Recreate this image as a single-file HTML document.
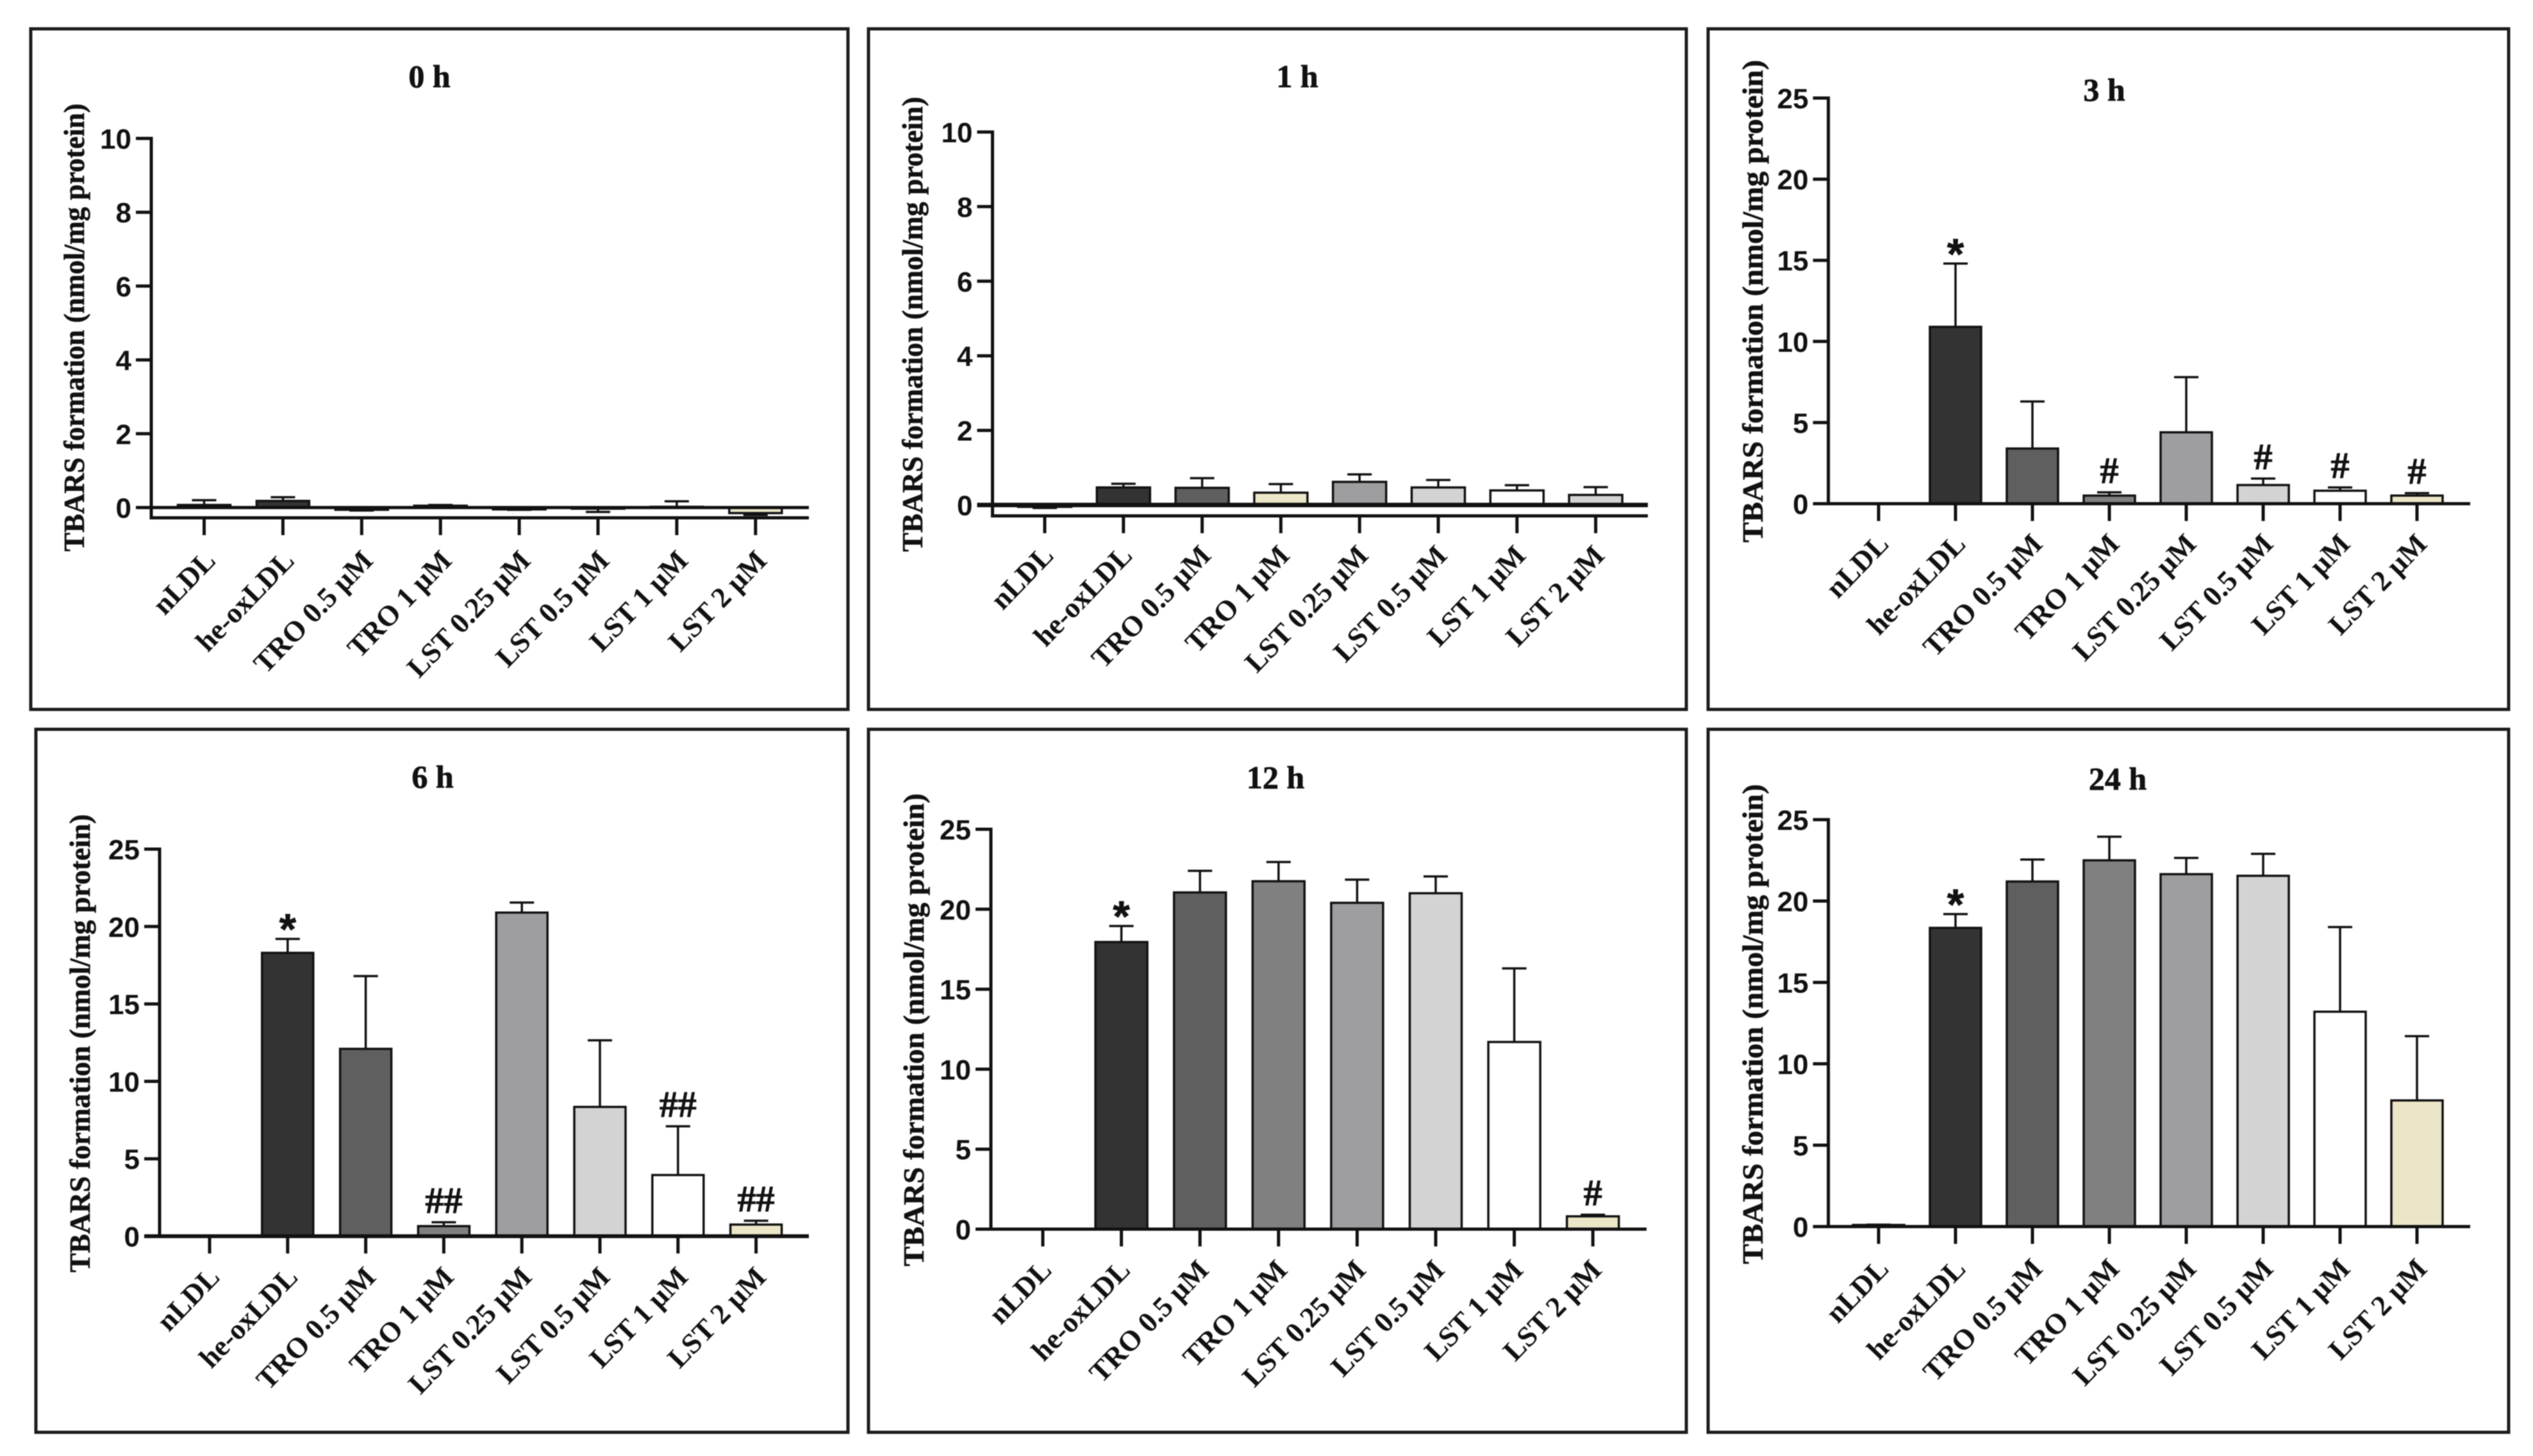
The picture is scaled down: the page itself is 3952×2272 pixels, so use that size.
<!DOCTYPE html>
<html lang="en">
<head>
<meta charset="utf-8">
<title>TBARS formation time course</title>
<style>
html,body{margin:0;padding:0;background:#fff}
svg{display:block;filter:blur(0.8px)}
.ylab{font:bold 44px "Liberation Sans",sans-serif;fill:#111;text-anchor:end}
.cat{font:bold 45px "Liberation Serif",serif;fill:#111;text-anchor:end}
.ytitle{font:bold 45px "Liberation Serif",serif;fill:#111;text-anchor:middle;stroke:#111;stroke-width:.6px}
.title{font:bold 50px "Liberation Serif",serif;fill:#111;text-anchor:middle;stroke:#111;stroke-width:.8px}
.mark{font:bold 58px "Liberation Serif",serif;fill:#111;text-anchor:middle;stroke:#111;stroke-width:.8px}
</style>
</head>
<body>
<svg id="figure" xmlns="http://www.w3.org/2000/svg" width="3952" height="2272" viewBox="0 0 3952 2272">
<rect width="3952" height="2272" fill="#fff"/>
</svg>
<script>
// ---- data ----
var categories = ['nLDL','he-oxLDL','TRO 0.5 µM','TRO 1 µM','LST 0.25 µM','LST 0.5 µM','LST 1 µM','LST 2 µM'];
var yTicks10 = [0,2,4,6,8,10];
var yTicks25 = [0,5,10,15,20,25];
var yAxisLabel = 'TBARS formation (nmol/mg protein)';

var means0h  = [0.07,0.18,-0.06,0.05,-0.05,-0.03,0.02,-0.15];
var errors0h = [0.13,0.10,0.02,0.02,0.01,0.09,0.15,0.05];
var marks0h  = ['','','','','','','',''];

var means1h  = [-0.05,0.47,0.46,0.33,0.62,0.47,0.39,0.27];
var errors1h = [0.03,0.10,0.26,0.23,0.20,0.20,0.14,0.21];
var marks1h  = ['','','','','','','',''];

var means3h  = [0,10.9,3.4,0.5,4.4,1.15,0.8,0.5];
var errors3h = [0,3.9,2.9,0.2,3.4,0.4,0.2,0.15];
var marks3h  = ['','*','','#','','#','#','#'];

var means6h  = [0,18.3,12.1,0.65,20.9,8.35,3.95,0.75];
var errors6h = [0,0.9,4.7,0.25,0.65,4.3,3.15,0.25];
var marks6h  = ['','*','','##','','','##','##'];

var means12h  = [0,17.95,21.05,21.75,20.4,21,11.7,0.8];
var errors12h = [0,1,1.35,1.2,1.45,1.05,4.6,0.1];
var marks12h  = ['','*','','','','','','#'];

var means24h  = [0.1,18.35,21.2,22.5,21.65,21.55,13.2,7.75];
var errors24h = [0.02,0.85,1.35,1.45,1.0,1.35,5.2,3.95];
var marks24h  = ['','*','','','','','',''];

var fills = ['#333333','#333333','#5f5f5f','#808080','#9e9ea1','#d3d3d3','#ffffff','#ece6c8'];
var fills1h = ['#333333','#333333','#5f5f5f','#ece6c8','#9e9ea1','#d3d3d3','#ffffff','#d3d3d3'];

// ---- drawing ----
var NS = 'http://www.w3.org/2000/svg';
var root = document.getElementById('figure');

function mk(parent, tag, attrs, text) {
  var e = document.createElementNS(NS, tag);
  for (var k in attrs) e.setAttribute(k, attrs[k]);
  if (text !== undefined) e.textContent = text;
  parent.appendChild(e);
  return e;
}

function drawPanel(p) {
  var g = mk(root, 'g', {});
  
  

  function xScale(i) { return p.xFirst + i * p.xStep; }
  function yScale(v) { return p.y0 + (p.yTop - p.y0) * v / p.yMax; }

  var frame = mk(g, 'rect', {x:p.fx, y:p.fy, width:p.fw, height:p.fh, fill:'#fff', stroke:'#1c1c1c', 'stroke-width':5});
  
  

  var title = mk(g, 'text', {x:p.tx, y:p.ty, 'class':'title'}, p.title);
  
  

  var yt = mk(g, 'text', {'class':'ytitle', textLength:p.ytLen, lengthAdjust:'spacingAndGlyphs',
    transform:'translate(' + p.ytx + ',' + p.yty + ') rotate(-90)'}, yAxisLabel);
  
  

  // bars and error bars
  p.means.forEach(function (m, i) {
    var cx = xScale(i);
    var sign = m < 0 ? -1 : 1;
    var tipV = m + sign * p.errors[i];
    var yTip = yScale(tipV);
    var yM = yScale(m);

    var stem = mk(g, 'line', {x1:cx, x2:cx, y1:yM, y2:yTip, stroke:'#111', 'stroke-width':3.5});
    
    

    var cap = mk(g, 'line', {x1:cx - 19, x2:cx + 19, y1:yTip, y2:yTip, stroke:'#111', 'stroke-width':3.5});
    
    

    var top = Math.min(yM, p.y0), h = Math.abs(yM - p.y0);
    var bar = mk(g, 'rect', {x:cx - p.barW / 2, y:top, width:p.barW, height:h,
      fill:p.fills[i], stroke:'#111', 'stroke-width':3.5});
    
    

    if (p.marks[i]) {
      var isStar = p.marks[i] === '*';
      var mark = mk(g, 'text', {x:cx, y:isStar ? yTip + 8 : yTip - 15, 'class':'mark',
        style:isStar ? 'font-family:"Liberation Sans",sans-serif;font-size:68px' : ''}, p.marks[i]);
      
      
    }
  });

  // y axis
  var axisBottom = p.yLow;
  var ya = mk(g, 'line', {x1:p.ax, x2:p.ax, y1:p.yTop - 2.5, y2:axisBottom + 2.5, stroke:'#111', 'stroke-width':5});
  
  

  p.yTicks.forEach(function (v) {
    var y = yScale(v);
    var right = v === 0 ? p.xEnd : p.ax;
    var t = mk(g, 'line', {x1:p.ax - 24, x2:right, y1:y, y2:y, stroke:'#111',
      'stroke-width':v === 0 ? p.zeroW : 5});
    
    

    var l = mk(g, 'text', {x:p.ax - 31, y:y + 16, 'class':'ylab'}, String(v));
    
    
  });

  // x axis
  if (p.yLow !== p.y0) {
    var xa = mk(g, 'line', {x1:p.ax - 2.5, x2:p.xEnd, y1:p.yLow, y2:p.yLow, stroke:'#111', 'stroke-width':5});
    
    
  }

  categories.forEach(function (c, i) {
    var cx = xScale(i);
    var t = mk(g, 'line', {x1:cx, x2:cx, y1:p.yLow, y2:p.yLow + 27, stroke:'#111', 'stroke-width':5});
    
    

    var l = mk(g, 'text', {'class':'cat',
      transform:'translate(' + (cx + p.labDx) + ',' + p.labY + ') rotate(-46)'}, c);
    
    
  });
}

drawPanel({title:'0 h', means:means0h, errors:errors0h, marks:marks0h, fills:fills, yTicks:yTicks10, yMax:10,
  fx:48, fy:45, fw:1275, fh:1062, tx:670, ty:136, ytx:131, yty:511, ytLen:699,
  ax:236, xFirst:318.5, xStep:122.9, xEnd:1262, y0:792, yTop:216, yLow:808, zeroW:5, barW:82, labDx:20, labY:877});

drawPanel({title:'1 h', means:means1h, errors:errors1h, marks:marks1h, fills:fills1h, yTicks:yTicks10, yMax:10,
  fx:1355, fy:45, fw:1276, fh:1062, tx:2024, ty:136, ytx:1439, yty:506, ytLen:710,
  ax:1548.5, xFirst:1630, xStep:122.8, xEnd:2571, y0:788, yTop:206, yLow:805, zeroW:7, barW:83, labDx:16, labY:869});

drawPanel({title:'3 h', means:means3h, errors:errors3h, marks:marks3h, fills:fills, yTicks:yTicks25, yMax:25,
  fx:2665, fy:45, fw:1249, fh:1062, tx:3283, ty:157, ytx:2750, yty:470, ytLen:753,
  ax:2852.6, xFirst:2931, xStep:120, xEnd:3854, y0:786, yTop:153, yLow:786, zeroW:5, barW:80, labDx:18, labY:851});

drawPanel({title:'6 h', means:means6h, errors:errors6h, marks:marks6h, fills:fills, yTicks:yTicks25, yMax:25,
  fx:56, fy:1138, fw:1267, fh:1097, tx:675, ty:1229, ytx:140, yty:1628, ytLen:715,
  ax:249, xFirst:327, xStep:121.8, xEnd:1262, y0:1929, yTop:1325, yLow:1929, zeroW:6, barW:80, labDx:18, labY:1995});

drawPanel({title:'12 h', means:means12h, errors:errors12h, marks:marks12h, fills:fills, yTicks:yTicks25, yMax:25,
  fx:1355, fy:1138, fw:1276, fh:1097, tx:1990, ty:1230, ytx:1441, yty:1607, ytLen:738,
  ax:1546, xFirst:1627, xStep:122.6, xEnd:2569, y0:1918, yTop:1294, yLow:1918, zeroW:5, barW:81, labDx:16, labY:1984});

drawPanel({title:'24 h', means:means24h, errors:errors24h, marks:marks24h, fills:fills, yTicks:yTicks25, yMax:25,
  fx:2665, fy:1138, fw:1249, fh:1097, tx:3304, ty:1232, ytx:2750, yty:1598, ytLen:749,
  ax:2852.6, xFirst:2931, xStep:120, xEnd:3854, y0:1914, yTop:1279, yLow:1914, zeroW:5, barW:80, labDx:18, labY:1982});
</script>
</body>
</html>
